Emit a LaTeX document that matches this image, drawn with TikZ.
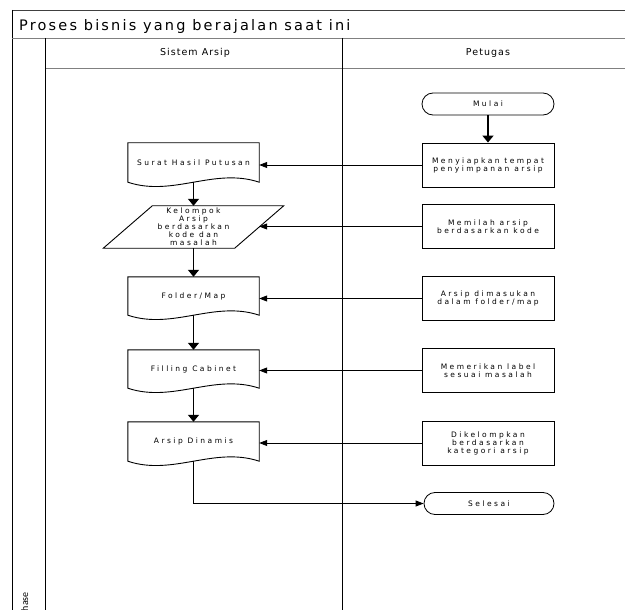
\documentclass[tikz,border=0pt]{standalone}
\usepackage{fontspec}
\setmainfont{DejaVu Sans}
\newfontfamily\titlefont[LetterSpace=15]{DejaVu Sans}
\newfontfamily\headfont[LetterSpace=11]{DejaVu Sans}
\newfontfamily\nodefont[LetterSpace=33]{DejaVu Sans}
\newfontfamily\phasefont{Carlito}
\usetikzlibrary{arrows.meta}
\tikzset{
  nodetext/.style={font=\nodefont\fontsize{7.5}{8}\selectfont, align=center, inner sep=0pt, text=black},
  procbox/.style={nodetext, draw=black, line width=0.9pt, minimum width=132pt, minimum height=44pt},
  termbox/.style={nodetext, draw=black, line width=0.8pt, minimum width=132pt, minimum height=22pt, rounded corners=11pt},
  docbox/.style={nodetext, minimum width=131pt, minimum height=#1,
    append after command={\pgfextra{\draw[black, line width=0.9pt]
      (\tikzlastnode.south west) -- (\tikzlastnode.north west) -- (\tikzlastnode.north east) -- (\tikzlastnode.south east)
      .. controls ([shift={(-45pt,15pt)}]\tikzlastnode.south east) and ([shift={(45pt,-15pt)}]\tikzlastnode.south west) .. (\tikzlastnode.south west) -- cycle;}}},
  parabox/.style={nodetext, minimum width=131pt, minimum height=42pt,
    append after command={\pgfextra{\draw[black, line width=0.9pt]
      ([xshift=24.5pt]\tikzlastnode.north west) -- ([xshift=24.5pt]\tikzlastnode.north east) --
      ([xshift=-24.5pt]\tikzlastnode.south east) -- ([xshift=-24.5pt]\tikzlastnode.south west) -- cycle;}}},
  vflow/.style={line width=1.6pt, -{Triangle[length=7pt,width=11pt]}},
  vline/.style={line width=1.6pt},
  hflow/.style={line width=0.8pt, -{Triangle[length=8pt,width=6pt]}},
  frameline/.style={line width=0.9pt, draw=black},
  grayline/.style={line width=0.9pt, draw=black!50},
  headtext/.style={font=\headfont\fontsize{9.5}{11}\selectfont, inner sep=0pt}
}
\begin{document}
\begin{tikzpicture}[x=1pt,y=-1pt]
\useasboundingbox (0,0) rectangle (625,610);
\clip (0,0) rectangle (625,610);
\fill[white] (0,0) rectangle (625,610);
% pool frame
\draw[line width=0.9pt, draw=black!75] (12,10) -- (640,10);
\draw[frameline] (12,10) -- (12,630);
\draw[grayline] (12,38) -- (640,38);
\draw[grayline] (45,68) -- (640,68);
\draw[frameline] (45,38) -- (45,630);
\draw[frameline] (342,38) -- (342,630);
\node[anchor=base west, inner sep=0pt, font=\titlefont\fontsize{14.5}{17}\selectfont] (title) at (19,30.5) {Proses bisnis yang berajalan saat ini};
\node[headtext] (lane1) at (195,53) {Sistem Arsip};
\node[headtext] (lane2) at (488,53) {Petugas};
\node[rotate=90, anchor=base east, inner sep=0pt, font=\phasefont\fontsize{10}{12}\selectfont] (phase) at (28,592) {Phase};
% Petugas lane
\node[termbox] (mulai) at (488,104) {Mulai};
\node[procbox] (siap) at (488,165) {Menyiapkan tempat\\penyimpanan arsip};
\node[procbox] (pilah) at (488,226.5) {Memilah arsip\\berdasarkan kode};
\node[procbox] (masuk) at (488,298.5) {Arsip dimasukan\\dalam folder/map};
\node[procbox] (label) at (488,370.5) {Memerikan label\\sesuai masalah};
\node[procbox] (kelompk) at (488,443) {Dikelompkan\\berdasarkan\\kategori arsip};
\node[termbox, minimum width=130pt] (selesai) at (489,503.5) {Selesai};
% Sistem Arsip lane
\node[docbox=39pt] (surat) at (193.5,162.5) {Surat Hasil Putusan};
\node[parabox] (kel) at (193.5,227) {Kelompok\\Arsip\\berdasarkan\\kode dan\\masalah};
\node[docbox=38pt] (folder) at (193.5,296) {Folder/Map};
\node[docbox=38pt] (cabinet) at (193.5,369) {Filling Cabinet};
\node[docbox=39pt] (dinamis) at (193.5,441.5) {Arsip Dinamis};
% connectors
\draw[vflow] (mulai) -- (siap);
\draw[hflow] (siap.west) -- (siap.west -| surat.east);
\draw[hflow] (pilah.west) -- (pilah.west -| kel.east);
\draw[hflow] (masuk.west) -- (masuk.west -| folder.east);
\draw[hflow] (label.west) -- (label.west -| cabinet.east);
\draw[hflow] (kelompk.west) -- (kelompk.west -| dinamis.east);
\draw[vflow] (surat.south) -- (kel.north);
\draw[vflow] (kel.south) -- (folder.north);
\draw[vflow] (folder.south) -- (cabinet.north);
\draw[vflow] (cabinet.south) -- (dinamis.north);
\coordinate (turn) at (dinamis.south |- selesai.west);
\draw[vline] (dinamis.south) -- ([yshift=-0.4pt]turn);
\draw[hflow] (turn) -- (selesai.west);
\end{tikzpicture}
\end{document}
